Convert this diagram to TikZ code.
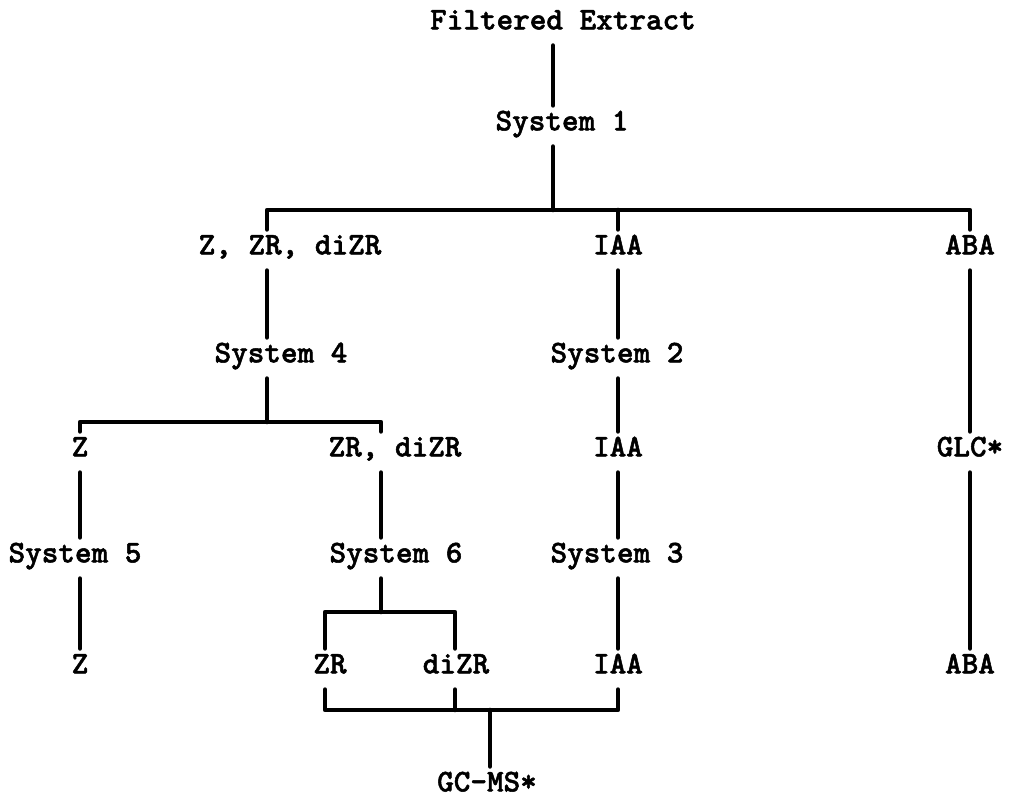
\documentclass[tikz,border=0pt]{standalone}
\usepackage{fontspec}
\newfontfamily\typer[Extension=.otf,FakeBold=1.6]{lmmonolt10-bold}
\usepackage{tikz}
\usetikzlibrary{positioning,calc}

\begin{document}
\begin{tikzpicture}[x=0.02cm,y=-0.02cm,
  font=\typer\fontsize{18}{20}\selectfont,
  lbl/.style={inner xsep=2pt,inner ysep=8pt,text height=0.6em,text depth=0.1em,align=center},
  link/.style={line width=2.6pt,line cap=round,line join=round}]
\useasboundingbox (0,0) rectangle (1015,804);
% top part
\node[lbl] (fe) at (563,25) {Filtered Extract};
\node[lbl] (s1) at (562,126) {System 1};
\coordinate (b1m) at (553,210);
\coordinate (b1l) at (267,210);
\coordinate (b1r) at (970,210);
% three branches
\node[lbl] (zz) at (290,250) {Z, ZR, diZR};
\node[lbl] (iaa1) at (618,250) {IAA};
\node[lbl] (aba1) at (970,250) {ABA};
\node[lbl] (s4) at (281,358) {System 4};
\node[lbl] (s2) at (617,358) {System 2};
\coordinate (b2l) at (80,422);
\coordinate (b2r) at (381,422);
\node[lbl] (z1) at (80,452) {Z};
\node[lbl] (zd) at (395,452) {ZR, diZR};
\node[lbl] (iaa2) at (618,452) {IAA};
\node[lbl] (glc) at (970,452) {GLC*};
\node[lbl] (s5) at (75,558) {System 5};
\node[lbl] (s6) at (396,558) {System 6};
\node[lbl] (s3) at (617,558) {System 3};
\coordinate (b3l) at (325,612);
\coordinate (b3r) at (455,612);
\node[lbl] (z2) at (80,669) {Z};
\node[lbl] (zr) at (330,669) {ZR};
\node[lbl] (dizr) at (456,669) {diZR};
\node[lbl] (iaa3) at (618,669) {IAA};
\node[lbl] (aba2) at (970,669) {ABA};
\coordinate (b4l) at (325,710);
\coordinate (b4m) at (490,710);
\coordinate (b4r) at (618,710);
\node[lbl] (gc) at (487,787) {GC-MS*};
% connectors
\draw[link] (fe.south -| b1m) -- (s1.north -| b1m);
\draw[link] (s1.south -| b1m) -- (b1m);
\draw[link] (zz.north -| b1l) -- (b1l) -- (b1r) -- (aba1.north);
\draw[link] (b1l -| iaa1) -- (iaa1.north);
\draw[link] (zz.south -| b1l) -- (s4.north -| b1l);
\draw[link] (s4.south -| b1l) -- (b2l -| b1l);
\draw[link] (z1.north) -- (b2l) -- (b2r) -- (zd.north -| b2r);
\draw[link] (z1.south) -- (s5.north -| z1);
\draw[link] (s5.south -| z1) -- (z2.north);
\draw[link] (zd.south -| b2r) -- (s6.north -| b2r);
\draw[link] (s6.south -| b2r) -- (b3l -| b2r);
\draw[link] (zr.north -| b3l) -- (b3l) -- (b3r) -- (dizr.north -| b3r);
\draw[link] (iaa1.south) -- (s2.north -| iaa1);
\draw[link] (s2.south -| iaa1) -- (iaa2.north);
\draw[link] (iaa2.south) -- (s3.north -| iaa2);
\draw[link] (s3.south -| iaa2) -- (iaa3.north);
\draw[link] (aba1.south) -- (glc.north);
\draw[link] (glc.south) -- (aba2.north);
\draw[link] (zr.south -| b4l) -- (b4l) -- (b4r) -- (iaa3.south);
\draw[link] (dizr.south -| b3r) -- (b4l -| b3r);
\draw[link] (b4m) -- (gc.north -| b4m);
\end{tikzpicture}
\end{document}
